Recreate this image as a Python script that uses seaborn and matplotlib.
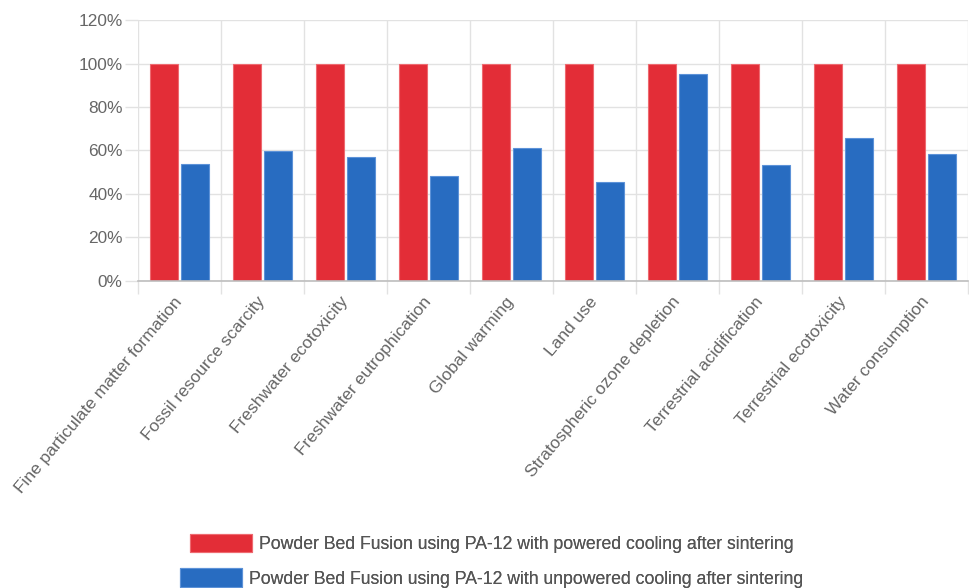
import matplotlib
matplotlib.use("Agg")
import matplotlib.pyplot as plt
import seaborn as sns
import pandas as pd
from matplotlib.ticker import FixedLocator

categories = [
    "Fine particulate matter formation",
    "Fossil resource scarcity",
    "Freshwater ecotoxicity",
    "Freshwater eutrophication",
    "Global warming",
    "Land use",
    "Stratospheric ozone depletion",
    "Terrestrial acidification",
    "Terrestrial ecotoxicity",
    "Water consumption",
]
series_names = [
    "Powder Bed Fusion using PA-12 with powered cooling after sintering",
    "Powder Bed Fusion using PA-12 with unpowered cooling after sintering",
]
powered = [100, 100, 100, 100, 100, 100, 100, 100, 100, 100]
unpowered = [53.7, 59.9, 57.2, 48.2, 61.0, 45.6, 95.0, 53.5, 65.7, 58.4]
y_ticks = [0, 20, 40, 60, 80, 100, 120]

colors = {series_names[0]: "#e32d37", series_names[1]: "#286cc1"}
edges = {"#e32d37": "#ee6a70", "#286cc1": "#5d92d8"}

df = pd.DataFrame({
    "category": categories * 2,
    "value": powered + unpowered,
    "series": [series_names[0]] * len(categories) + [series_names[1]] * len(categories),
})

sns.set_theme(style="white")
plt.rcParams["font.family"] = ["Liberation Sans", "DejaVu Sans"]
text_color = "#666666"
grid_color = "#e2e2e2"

fig = plt.figure(figsize=(9.7, 5.88), dpi=100)
ax = fig.add_axes([138 / 970, 1 - 281 / 588, 830 / 970, 261 / 588])

sns.barplot(data=df, x="category", y="value", hue="series", order=categories,
            hue_order=series_names, palette=colors, width=0.75, gap=0.08,
            saturation=1, ax=ax, zorder=3)

for p in ax.patches:
    fc = matplotlib.colors.to_hex(p.get_facecolor())
    if fc in edges:
        p.set_edgecolor(edges[fc])
        p.set_linewidth(0.8)

handles, labels = ax.get_legend_handles_labels()
if ax.get_legend() is not None:
    ax.get_legend().remove()

ax.set_xlim(-0.5, len(categories) - 0.5)
ax.set_ylim(0, 120)
ax.set_xlabel("")
ax.set_ylabel("")

ax.yaxis.set_major_locator(FixedLocator(y_ticks))
ax.set_yticklabels([f"{v}%" for v in y_ticks])
ax.xaxis.set_minor_locator(FixedLocator([i - 0.5 for i in range(len(categories) + 1)]))

ax.grid(False)
ax.grid(axis="y", which="major", color=grid_color, linewidth=1, zorder=0)
ax.grid(axis="x", which="minor", color=grid_color, linewidth=1, zorder=0)

for s in ["top", "right", "left"]:
    ax.spines[s].set_visible(False)
ax.spines["bottom"].set_color("#bdbdbd")
ax.spines["bottom"].set_linewidth(1.2)
ax.spines["bottom"].set_zorder(4)

ax.tick_params(axis="y", which="major", length=9.5, width=1, color=grid_color,
               pad=1.5, labelsize=12.4, labelcolor=text_color, left=True)
ax.tick_params(axis="x", which="major", length=0, pad=13, labelsize=12.5,
               labelcolor=text_color)
ax.tick_params(axis="x", which="minor", length=9, width=1, color=grid_color,
               bottom=True)

for lab in ax.get_xticklabels():
    lab.set_rotation(50)
    lab.set_ha("right")
    lab.set_va("center")
    lab.set_rotation_mode("anchor")

legend_y = [1 - 543.5 / 588, 1 - 578 / 588]
for h, l, yy in zip(handles, labels, legend_y):
    leg = fig.legend([h], [l], loc="center", bbox_to_anchor=(491.5 / 970, yy),
                     frameon=False, fontsize=12.7, handlelength=3.52,
                     handleheight=1.23, handletextpad=0.4, borderpad=0,
                     borderaxespad=0, labelcolor="#555555")
    fig.add_artist(leg)

fig.savefig("out.png", dpi=100)
